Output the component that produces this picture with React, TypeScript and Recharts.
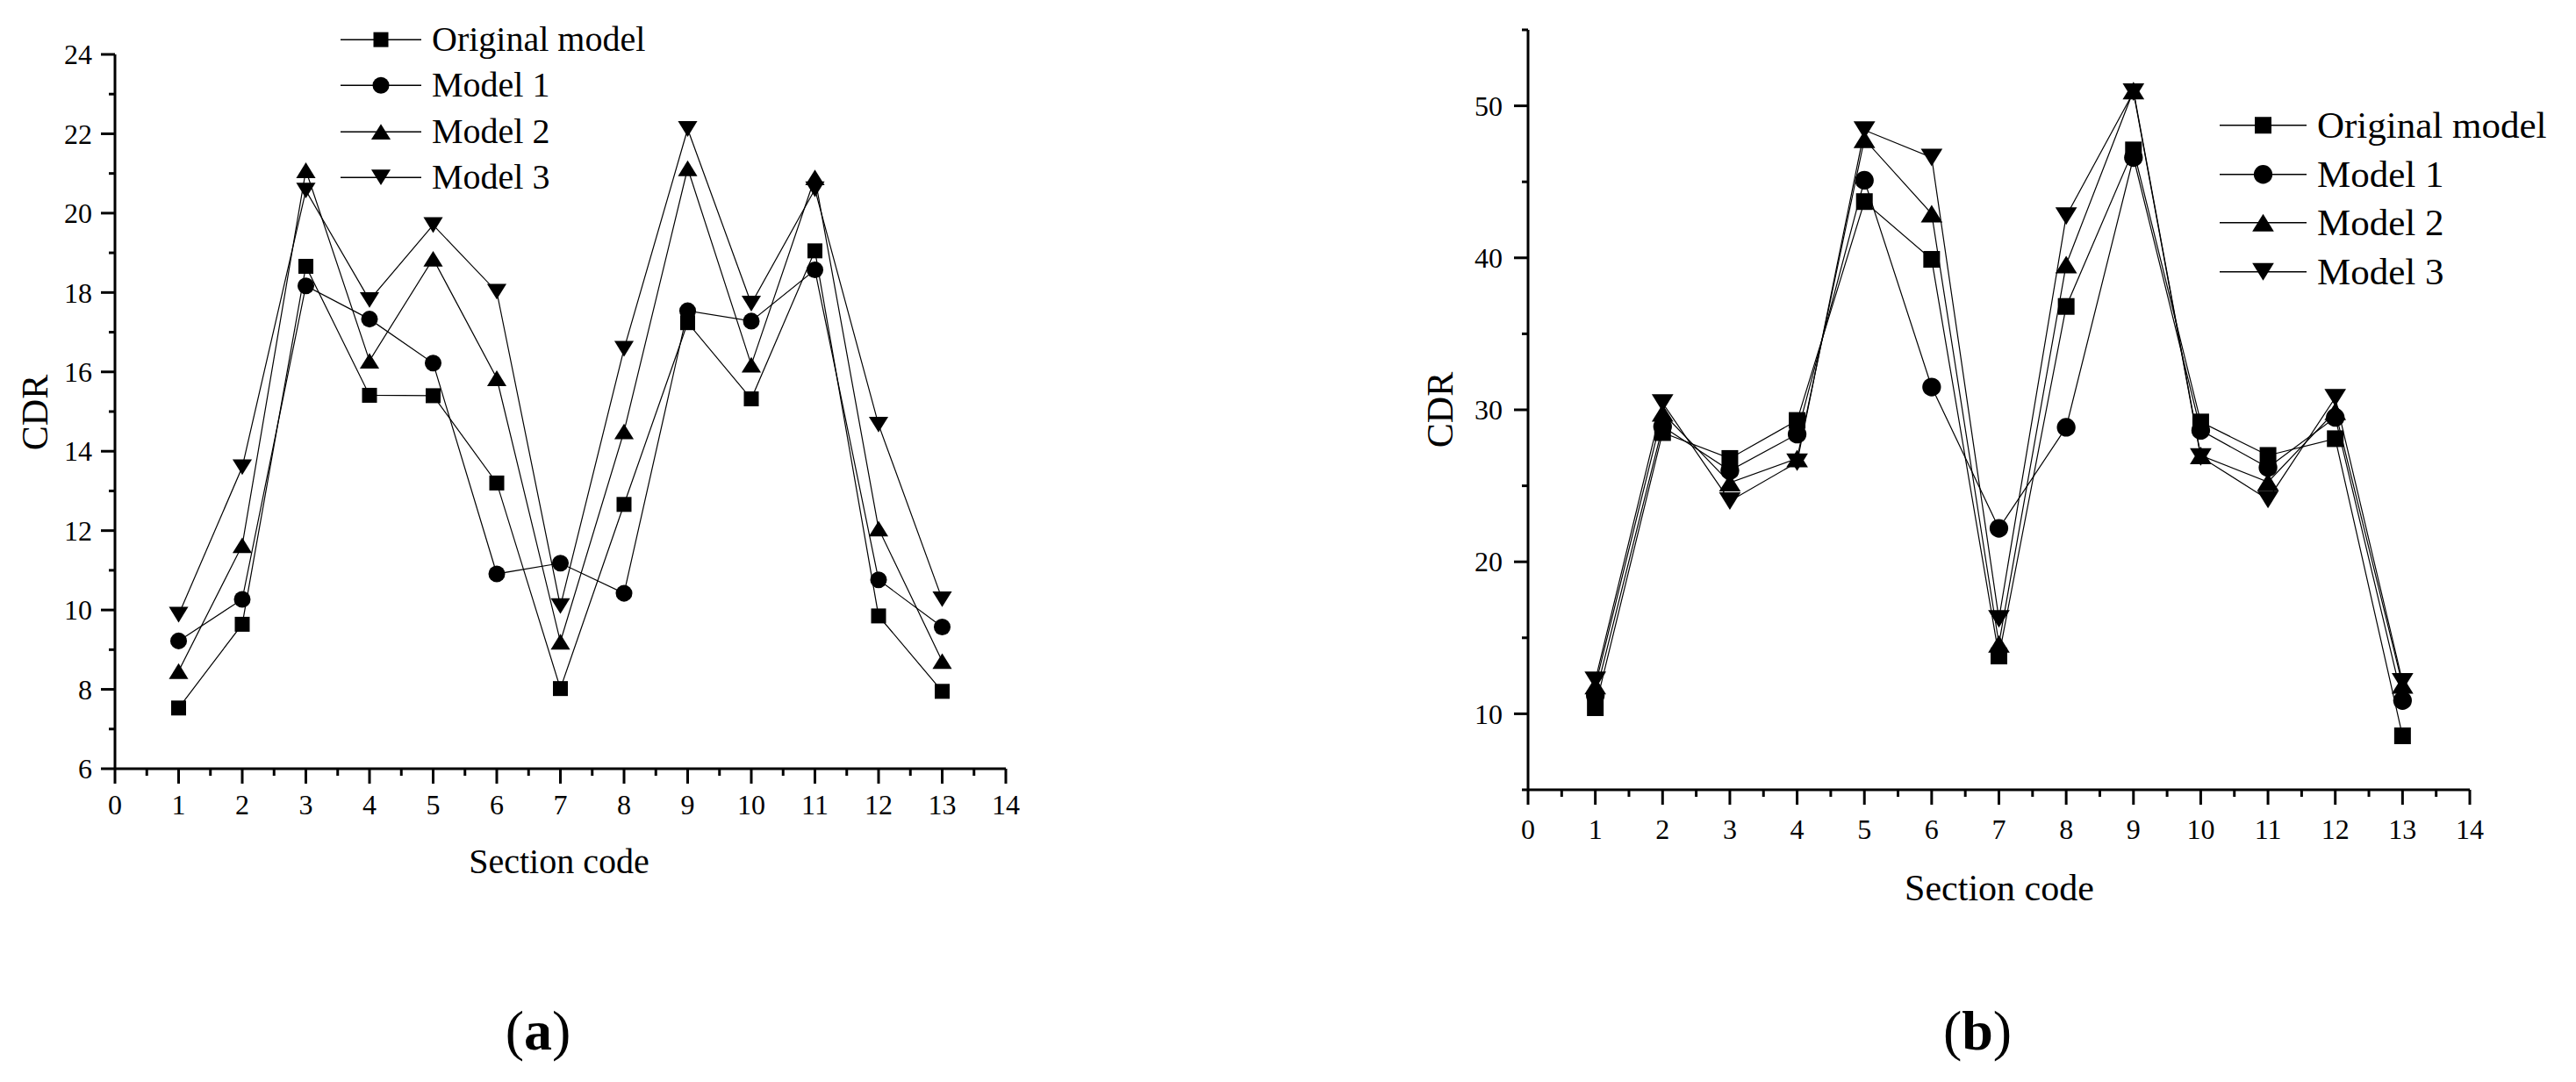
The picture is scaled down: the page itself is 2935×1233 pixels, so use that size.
import { LineChart, Line, XAxis, YAxis, Legend } from 'recharts';

const FONT = "'Liberation Serif', 'Times New Roman', serif";

const sections = [1, 2, 3, 4, 5, 6, 7, 8, 9, 10, 11, 12, 13];

// panel (a)
const origA = [7.53, 9.64, 18.66, 15.41, 15.4, 13.2, 8.02, 12.66, 17.24, 15.32, 19.05, 9.85, 7.95];
const model1A = [9.22, 10.27, 18.17, 17.33, 16.22, 10.91, 11.18, 10.42, 17.54, 17.28, 18.57, 10.76, 9.57];
const model2A = [8.46, 11.63, 21.08, 16.28, 18.85, 15.84, 9.2, 14.5, 21.13, 16.18, 20.9, 12.05, 8.71];
const model3A = [9.88, 13.6, 20.57, 17.81, 19.7, 18.02, 10.1, 16.58, 22.12, 17.72, 20.6, 14.67, 10.27];

// panel (b)
const origB = [10.4, 28.5, 26.8, 29.3, 43.7, 39.9, 13.8, 36.8, 47.1, 29.2, 27.0, 28.1, 8.55];
const model1B = [11.2, 28.9, 26.0, 28.4, 45.1, 31.5, 22.2, 28.85, 46.6, 28.65, 26.2, 29.5, 10.87];
const model2B = [11.85, 29.8, 25.2, 26.8, 47.8, 42.9, 14.6, 39.56, 51.0, 27.0, 25.25, 29.9, 11.9];
const model3B = [12.2, 30.45, 24.0, 26.55, 48.4, 46.6, 16.25, 42.75, 50.9, 26.9, 24.1, 30.8, 12.1];

const seriesKeys = ['orig', 'm1', 'm2', 'm3'];
const seriesNames = ['Original model', 'Model 1', 'Model 2', 'Model 3'];
const seriesShapes = ['square', 'circle', 'up', 'down'];

const xTicks = [0, 0.5, 1, 1.5, 2, 2.5, 3, 3.5, 4, 4.5, 5, 5.5, 6, 6.5, 7, 7.5, 8, 8.5, 9, 9.5, 10, 10.5, 11, 11.5, 12, 12.5, 13, 13.5, 14];
const yTicksA = [6, 7, 8, 9, 10, 11, 12, 13, 14, 15, 16, 17, 18, 19, 20, 21, 22, 23, 24];
const yLabelsA = [6, 8, 10, 12, 14, 16, 18, 20, 22, 24];
const yTicksB = [5, 10, 15, 20, 25, 30, 35, 40, 45, 50, 55];
const yLabelsB = [10, 20, 30, 40, 50];

const buildRows = (cols: number[][]) =>
  sections.map((x, i) => ({ x, orig: cols[0][i], m1: cols[1][i], m2: cols[2][i], m3: cols[3][i] }));

const dataA = buildRows([origA, model1A, model2A, model3A]);
const dataB = buildRows([origB, model1B, model2B, model3B]);

function Marker({ shape, cx, cy, s }: { shape: string; cx: number; cy: number; s: number }) {
  if (cx == null || cy == null) return null;
  if (shape === 'square') return <rect x={cx - s / 2} y={cy - s / 2} width={s} height={s} fill="#000" />;
  if (shape === 'circle') return <circle cx={cx} cy={cy} r={s * 0.56} fill="#000" />;
  const w = s * 1.3;
  const h = s * 1.05;
  if (shape === 'up')
    return <polygon points={`${cx},${cy - h / 2} ${cx - w / 2},${cy + h / 2} ${cx + w / 2},${cy + h / 2}`} fill="#000" />;
  return <polygon points={`${cx},${cy + h / 2} ${cx - w / 2},${cy - h / 2} ${cx + w / 2},${cy - h / 2}`} fill="#000" />;
}

function XTick(props: any) {
  const { x, y, payload, gap } = props;
  const v = payload.value;
  const major = Number.isInteger(v);
  return (
    <g>
      <line x1={x} x2={x} y1={y} y2={y + (major ? 17 : 8)} stroke="#000" strokeWidth={3} />
      {major && (
        <text x={x} y={y + gap} dy="0.35em" textAnchor="middle" fontSize={32} fontFamily={FONT} fill="#000">
          {v}
        </text>
      )}
    </g>
  );
}

function YTick(props: any) {
  const { x, y, payload, labels, gap } = props;
  const v = payload.value;
  const major = labels.includes(v);
  return (
    <g>
      <line x1={x} x2={x - (major ? 16 : 7)} y1={y} y2={y} stroke="#000" strokeWidth={3} />
      {major && (
        <text x={x - gap} y={y} dy="0.35em" textAnchor="end" fontSize={32} fontFamily={FONT} fill="#000">
          {v}
        </text>
      )}
    </g>
  );
}

function LegendBox({ payload, fontSize, rowH, lineW, s }: any) {
  const items = [...(payload || [])].sort(
    (a: any, b: any) => seriesKeys.indexOf(a.dataKey) - seriesKeys.indexOf(b.dataKey)
  );
  return (
    <div>
      {items.map((item: any) => {
        const shape = seriesShapes[seriesKeys.indexOf(item.dataKey)];
        return (
          <div key={item.value} style={{ display: 'flex', alignItems: 'center', height: rowH }}>
            <svg width={lineW} height={rowH}>
              <line x1={0} x2={lineW} y1={rowH / 2} y2={rowH / 2} stroke="#000" strokeWidth={1.5} />
              <Marker shape={shape} cx={lineW / 2} cy={rowH / 2} s={s} />
            </svg>
            <span style={{ marginLeft: 12, fontSize, fontFamily: FONT, color: '#000', whiteSpace: 'nowrap', lineHeight: `${rowH}px` }}>
              {item.value}
            </span>
          </div>
        );
      })}
    </div>
  );
}

function Panel({ data, left, width, height, margin, yWidth, xHeight, domain, yTicks, yLabels, yGap, xGap, s, legend }: any) {
  return (
    <div style={{ position: 'absolute', left, top: 0 }}>
      <LineChart width={width} height={height} data={data} margin={margin}>
        <XAxis
          dataKey="x"
          type="number"
          domain={[0, 14]}
          ticks={xTicks}
          interval={0}
          allowDataOverflow
          height={xHeight}
          tickSize={0}
          tickMargin={0}
          tickLine={false}
          axisLine={{ stroke: '#000', strokeWidth: 3 }}
          tick={(p: any) => <XTick {...p} gap={xGap} />}
        />
        <YAxis
          type="number"
          domain={domain}
          ticks={yTicks}
          interval={0}
          allowDataOverflow
          width={yWidth}
          tickSize={0}
          tickMargin={0}
          tickLine={false}
          axisLine={{ stroke: '#000', strokeWidth: 3 }}
          tick={(p: any) => <YTick {...p} labels={yLabels} gap={yGap} />}
        />
        <Legend
          layout="vertical"
          align="center"
          verticalAlign="middle"
          itemSorter={null}
          wrapperStyle={{ left: legend.left, top: legend.top, width: 'auto', height: 'auto' }}
          content={(p: any) => <LegendBox payload={p.payload} fontSize={legend.fontSize} rowH={legend.rowH} lineW={legend.lineW} s={s} />}
        />
        {seriesKeys.map((k, i) => (
          <Line
            key={k}
            dataKey={k}
            name={seriesNames[i]}
            stroke="#000"
            strokeWidth={1.2}
            activeDot={false}
            isAnimationActive={false}
            dot={(p: any) => <Marker key={`${k}-${p.index}`} shape={seriesShapes[i]} cx={p.cx} cy={p.cy} s={s} />}
          />
        ))}
      </LineChart>
    </div>
  );
}

function Title({ text, x, y, size, rotate }: any) {
  return (
    <div
      style={{
        position: 'absolute',
        left: x,
        top: y,
        transform: `translate(-50%, -50%)${rotate ? ' rotate(-90deg)' : ''}`,
        fontFamily: FONT,
        fontSize: size,
        whiteSpace: 'nowrap',
        lineHeight: 1,
        color: '#000',
      }}
    >
      {text}
    </div>
  );
}

export default function App() {
  return (
    <div style={{ position: 'absolute', left: 0, top: 0, width: 2935, height: 1233, background: '#fff', overflow: 'hidden' }}>
      <Panel
        data={dataA}
        left={0}
        width={1200}
        height={1000}
        margin={{ top: 62, right: 54, left: 0, bottom: 0 }}
        yWidth={131}
        xHeight={124}
        domain={[6, 24]}
        yTicks={yTicksA}
        yLabels={yLabelsA}
        yGap={26}
        xGap={41}
        s={17}
        legend={{ left: 388, top: 19, fontSize: 40, rowH: 52.3, lineW: 92 }}
      />
      <Panel
        data={dataB}
        left={1600}
        width={1300}
        height={1000}
        margin={{ top: 34, right: 86, left: 0, bottom: 0 }}
        yWidth={141}
        xHeight={100}
        domain={[5, 55]}
        yTicks={yTicksB}
        yLabels={yLabelsB}
        yGap={29}
        xGap={45}
        s={19}
        legend={{ left: 929, top: 115, fontSize: 43, rowH: 55.5, lineW: 99 }}
      />
      <Title text="CDR" x={40} y={470} size={42} rotate />
      <Title text="CDR" x={1641} y={467} size={42} rotate />
      <Title text="Section code" x={637} y={982} size={40} />
      <Title text="Section code" x={2278} y={1012} size={42} />
      <div style={{ position: 'absolute', left: 613, top: 1175, transform: 'translate(-50%, -50%)', fontFamily: FONT, fontSize: 64, lineHeight: 1 }}>
        (<b>a</b>)
      </div>
      <div style={{ position: 'absolute', left: 2253, top: 1175, transform: 'translate(-50%, -50%)', fontFamily: FONT, fontSize: 64, lineHeight: 1 }}>
        (<b>b</b>)
      </div>
    </div>
  );
}
